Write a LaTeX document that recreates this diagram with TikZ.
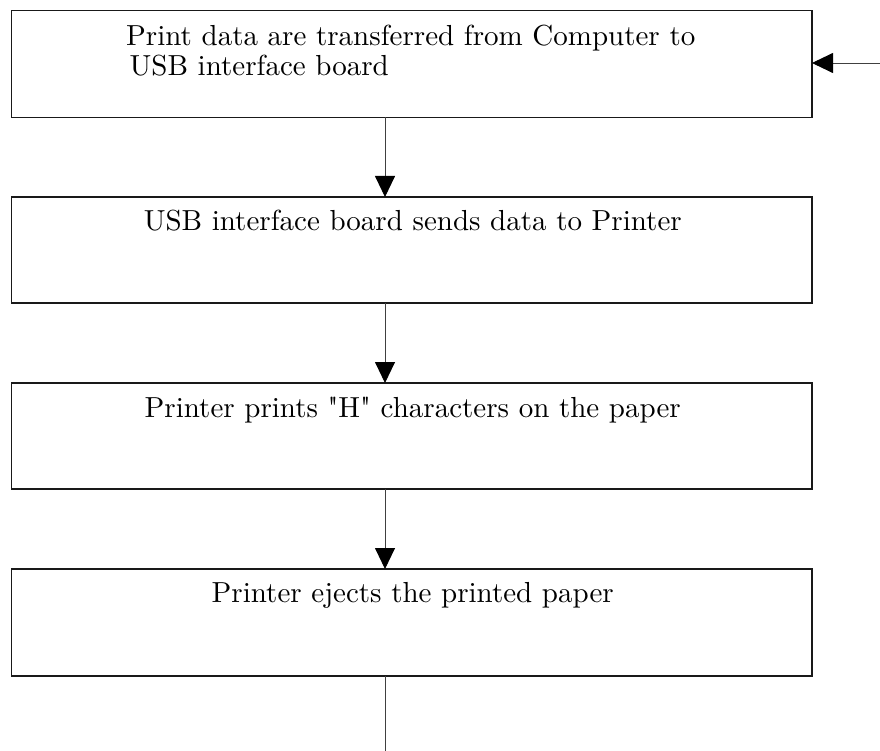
\documentclass[tikz,border=0pt]{standalone}
\usepackage{fontspec}
\newfontfamily\stepfont{lmroman10-regular.otf}
\usetikzlibrary{arrows.meta,calc}
\begin{document}
\begin{tikzpicture}[x=1pt,y=-1pt,
  stepbox/.style={draw=black!90,line width=1.4pt,rectangle,minimum width=800.5pt,inner sep=0pt,outer sep=0pt},
  steptext/.style={anchor=base,inner sep=0pt,font=\stepfont\fontsize{29}{30}\selectfont,align=left},
  conn/.style={draw=black!75,line width=0.9pt,-{Triangle[length=21pt,width=20pt,black]}},
  plain/.style={draw=black!75,line width=0.9pt}]
\useasboundingbox (0,0) rectangle (880,751);
\node[stepbox,minimum height=107pt] (b1) at (411.75,64) {};
\node[stepbox,minimum height=106pt] (b2) at (411.75,250) {};
\node[stepbox,minimum height=106pt] (b3) at (411.75,436) {};
\node[stepbox,minimum height=107pt] (b4) at (411.75,622.5) {};
\node[steptext,anchor=base west] (t1) at (126,76) {Print data are transferred from Computer to\\[0pt]\hspace{0.12em}USB interface board};
\node[steptext] (t2) at ($(b2.north)+(1,34)$) {USB interface board sends data to Printer};
\node[steptext] (t3) at ($(b3.north)+(1,34)$) {Printer prints "H" characters on the paper};
\node[steptext] (t4) at ($(b4.north)+(1,33)$) {Printer ejects the printed paper};
\coordinate (ax) at (385,0);
\coordinate (fin) at (385,751);
\coordinate (src) at (880,63);
\draw[conn] (b1.south -| ax) -- (b2.north -| ax);
\draw[conn] (b2.south -| ax) -- (b3.north -| ax);
\draw[conn] (b3.south -| ax) -- (b4.north -| ax);
\draw[plain] (b4.south -| ax) -- (fin);
\draw[conn] (src) -- (b1.east |- src);
\end{tikzpicture}
\end{document}
